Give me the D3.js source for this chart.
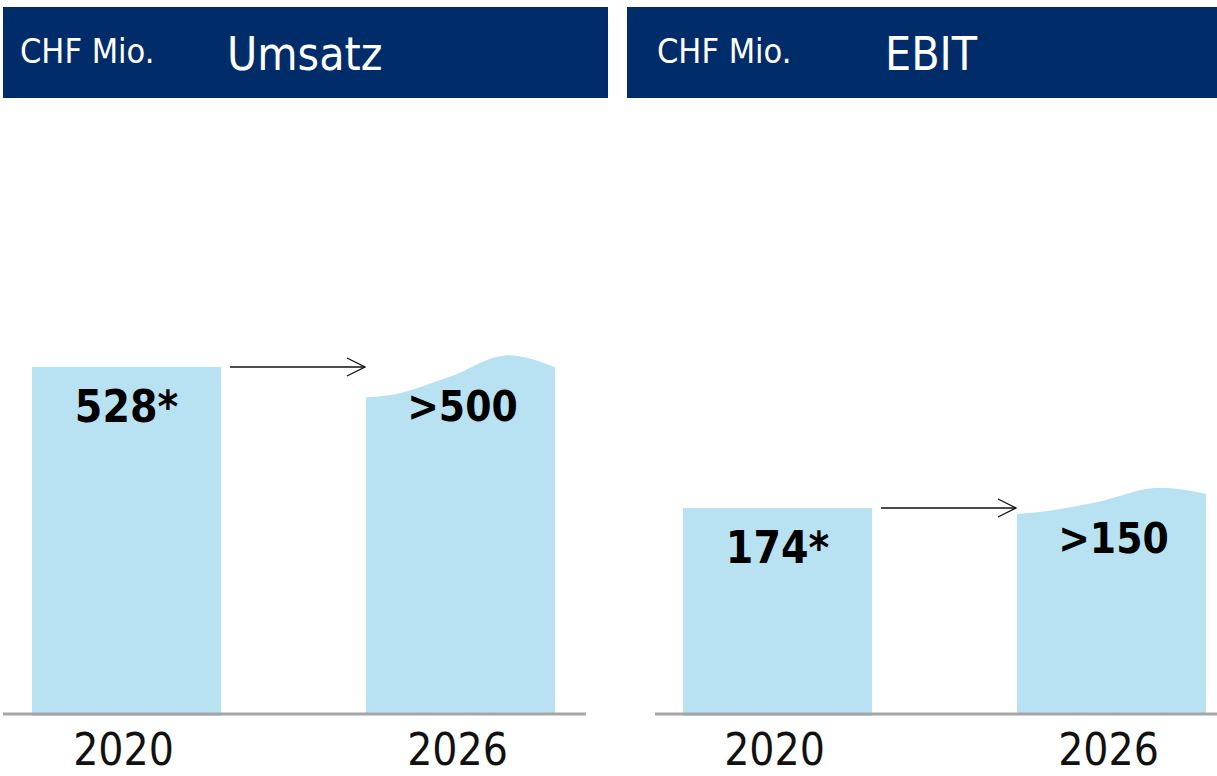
<!DOCTYPE html>
<html>
<head>
<meta charset="utf-8">
<script src="https://cdn.jsdelivr.net/npm/d3@7"></script>
<style>
    html, body { margin: 0; padding: 0; background: #fff; }
    svg text { font-family: "DejaVu Sans Condensed", "DejaVu Sans", sans-serif; }
</style>
</head>
<body>
<svg id="chart" width="1217" height="776"></svg>
<script>
// data
const years = ['2020', '2026'];
const panelTitles = ['Umsatz', 'EBIT'];
const unitLabel = 'CHF Mio.';
const umsatzValues = [528, 500];
const ebitValues = [174, 150];
const valueLabels = [['528*', '>500'], ['174*', '>150']];
// 2026 target drawn as a wavy top: left edge, crest, right edge
const umsatzWave = [482, 546, 528];
const ebitWave = [169, 191, 186];

const svg = d3.select('#chart');

const panels = [
    { title: panelTitles[0], values: umsatzValues, wave: umsatzWave, labels: valueLabels[0],
      header: [3, 608], unitX: 17, titleX: 224, axis: [3, 586], bars: [32, 555],
      yMax: 528, yMaxPx: 347, targetDy: 24 },
    { title: panelTitles[1], values: ebitValues, wave: ebitWave, labels: valueLabels[1],
      header: [627, 1217], unitX: 30, titleX: 258, axis: [655, 1217], bars: [683, 1206],
      yMax: 174, yMaxPx: 206, targetDy: 39 }
];

const baseY = 714;

svg.append('defs').append('marker')
    .attr('id', 'arrow')
    .attr('viewBox', '0 0 20 20')
    .attr('refX', 19).attr('refY', 10)
    .attr('markerWidth', 20).attr('markerHeight', 20)
    .attr('markerUnits', 'userSpaceOnUse')
    .attr('orient', 'auto')
    .append('path')
    .attr('d', 'M1,1 L19,10 L1,19')
    .attr('fill', 'none')
    .attr('stroke', '#111')
    .attr('stroke-width', 1.3);

panels.forEach(p => {
    const g = svg.append('g');

    // header bar
    g.append('rect')
        .attr('x', p.header[0]).attr('y', 7)
        .attr('width', p.header[1] - p.header[0]).attr('height', 91)
        .attr('fill', '#002d6a');
    g.append('text')
        .attr('x', p.header[0] + p.unitX).attr('y', 63)
        .attr('fill', '#fff').attr('font-size', 34)
        .text(unitLabel);
    g.append('text')
        .attr('x', p.header[0] + p.titleX).attr('y', 70)
        .attr('fill', '#fff').attr('font-size', 46)
        .text(p.title);

    const x = d3.scaleBand().domain(years).range(p.bars).paddingInner(0.434).paddingOuter(0);
    const y = d3.scaleLinear().domain([0, p.yMax]).range([baseY, baseY - p.yMaxPx]);
    const bw = x.bandwidth();

    // 2020 bar
    g.append('rect')
        .attr('x', x(years[0])).attr('y', y(p.values[0]))
        .attr('width', bw).attr('height', baseY + 2 - y(p.values[0]))
        .attr('fill', '#b8e2f2');

    // 2026 bar with wavy top
    const x0 = x(years[1]);
    const wavePts = [
        [x0, y(p.wave[0])],
        [x0 + bw * 0.12, y(p.wave[0]) - 2],
        [x0 + bw * 0.45, y((p.wave[0] + p.wave[1]) / 2)],
        [x0 + bw * 0.75, y(p.wave[1])],
        [x0 + bw, y(p.wave[2])]
    ];
    const top = d3.line().curve(d3.curveMonotoneX)(wavePts);
    g.append('path')
        .attr('d', `${top}L${x0 + bw},${baseY}L${x0},${baseY}Z`)
        .attr('fill', '#b8e2f2');

    // baseline
    g.append('line')
        .attr('x1', p.axis[0]).attr('x2', p.axis[1])
        .attr('y1', baseY).attr('y2', baseY)
        .attr('stroke', '#a6a6a6').attr('stroke-width', 3);

    // arrow from 2020 level to 2026 bar
    g.append('line')
        .attr('x1', x(years[0]) + bw + 9).attr('x2', x0 - 1)
        .attr('y1', y(p.values[0])).attr('y2', y(p.values[0]))
        .attr('stroke', '#111').attr('stroke-width', 1.3)
        .attr('marker-end', 'url(#arrow)');

    // value labels
    g.append('text')
        .attr('x', x(years[0]) + bw / 2).attr('y', y(p.values[0]) + 55)
        .attr('text-anchor', 'middle').attr('font-weight', 'bold').attr('font-size', 44)
        .text(p.labels[0]);
    g.append('text')
        .attr('x', x0 + bw / 2 + 2).attr('y', y(p.wave[0]) + p.targetDy)
        .attr('text-anchor', 'middle').attr('font-weight', 'bold').attr('font-size', 42)
        .text(p.labels[1]);

    // year axis labels
    g.selectAll('.year')
        .data(years)
        .join('text')
        .attr('class', 'year')
        .attr('x', d => x(d) + bw / 2 - 3)
        .attr('y', 765)
        .attr('text-anchor', 'middle')
        .attr('font-size', 44)
        .attr('fill', '#111')
        .text(d => d);
});
</script>
</body>
</html>
